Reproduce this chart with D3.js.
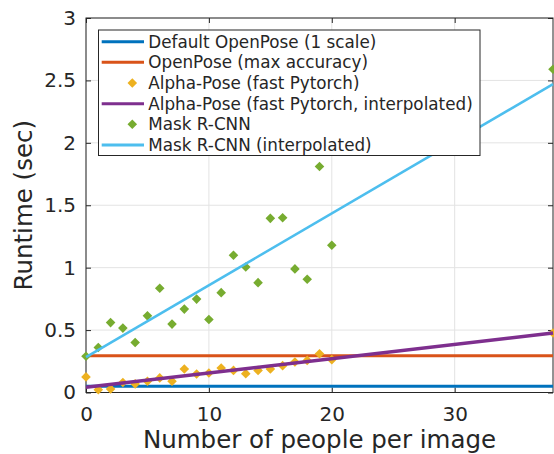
<!DOCTYPE html>
<html>
<head>
<meta charset="utf-8">
<script src="https://cdn.jsdelivr.net/npm/d3@7"></script>
<style>
html,body{margin:0;padding:0;background:#fff;}
svg{display:block;font-family:"DejaVu Sans",sans-serif;}
</style>
</head>
<body>
<svg id="chart" width="554" height="454"></svg>
<script>
// ---- data ----
const maskX = [0,1,2,3,4,5,6,7,8,9,10,11,12,13,14,15,16,17,18,19,20,38];
const maskY = [0.29,0.36,0.56,0.516,0.40,0.614,0.835,0.548,0.668,0.748,0.585,0.80,1.10,1.005,0.88,1.395,1.40,0.99,0.907,1.81,1.18,2.59];
const alphaX = [0,1,2,3,4,5,6,7,8,9,10,11,12,13,14,15,16,17,18,19,20,38];
const alphaY = [0.125,0.023,0.029,0.08,0.069,0.09,0.117,0.09,0.188,0.148,0.156,0.196,0.177,0.151,0.177,0.188,0.215,0.244,0.257,0.31,0.263,0.476];
const defaultOpenPoseX = [0,38];
const defaultOpenPoseY = [0.05,0.05];
const maxOpenPoseX = [0,38];
const maxOpenPoseY = [0.295,0.295];
const alphaInterpX = [0,38];
const alphaInterpY = [0.042,0.476];
const maskInterpX = [0,38];
const maskInterpY = [0.284,2.47];
const xTicks = [0,10,20,30];
const yTicks = [0,0.5,1,1.5,2,2.5,3];
const yTickLabels = ["0","0.5","1","1.5","2","2.5","3"];
const legendLabels = ["Default OpenPose (1 scale)","OpenPose (max accuracy)","Alpha-Pose (fast Pytorch)","Alpha-Pose (fast Pytorch, interpolated)","Mask R-CNN","Mask R-CNN (interpolated)"];
const xLabel = "Number of people per image";
const yLabel = "Runtime (sec)";

// ---- styles ----
const C = {blue:"#0072BD", red:"#D95319", yellow:"#EDB120", purple:"#7E2F8E", green:"#77AC30", cyan:"#4DBEEE"};
const axisColor = "#262626";

const svg = d3.select("#chart");
const L = 86, R = 553, T = 18, B = 392.5;
const x = d3.scaleLinear().domain([0,38]).range([L,R]);
const y = d3.scaleLinear().domain([0,3]).range([B,T]);

// grid
const grid = svg.append("g");
grid.selectAll(".gx").data(xTicks).enter().append("line")
  .attr("x1",d=>x(d)).attr("x2",d=>x(d)).attr("y1",T).attr("y2",B)
  .attr("stroke","#e3e3e3").attr("stroke-width",1);
grid.selectAll(".gy").data(yTicks).enter().append("line")
  .attr("x1",L).attr("x2",R).attr("y1",d=>y(d)).attr("y2",d=>y(d))
  .attr("stroke","#e3e3e3").attr("stroke-width",1);

// axes (ticks inward)
const fmtY = (d)=>yTickLabels[yTicks.indexOf(d)];
const axB = svg.append("g").attr("transform",`translate(0,${B})`)
  .call(d3.axisBottom(x).tickValues(xTicks).tickSizeInner(-5).tickSizeOuter(0).tickPadding(14));
const axL = svg.append("g").attr("transform",`translate(${L},0)`)
  .call(d3.axisLeft(y).tickValues(yTicks).tickFormat(fmtY).tickSizeInner(-5).tickSizeOuter(0).tickPadding(10));
const axT = svg.append("g").attr("transform",`translate(0,${T})`)
  .call(d3.axisTop(x).tickValues(xTicks).tickFormat("").tickSizeInner(-5).tickSizeOuter(0));
const axR = svg.append("g").attr("transform",`translate(${R},0)`)
  .call(d3.axisRight(y).tickValues(yTicks).tickFormat("").tickSizeInner(-5).tickSizeOuter(0));
[axB,axL,axT,axR].forEach(a=>{
  a.select(".domain").remove();
  a.selectAll("line").attr("stroke",axisColor);
  a.selectAll("text").attr("fill",axisColor).style("font-size","20px").style("font-family","DejaVu Sans");
});
svg.append("rect").attr("x",L).attr("y",T).attr("width",R-L).attr("height",B-T)
  .attr("fill","none").attr("stroke",axisColor).attr("stroke-width",1);

// lines
const line = d3.line().x(d=>x(d[0])).y(d=>y(d[1]));
function drawLine(xs,ys,color,w){
  svg.append("path").datum(xs.map((v,i)=>[v,ys[i]]))
    .attr("d",line).attr("fill","none").attr("stroke",color).attr("stroke-width",w);
}
const diamond = d3.symbol().type(d3.symbolSquare).size(46);
function drawPoints(xs,ys,color){
  svg.append("g").selectAll("path").data(xs.map((v,i)=>[v,ys[i]])).enter().append("path")
    .attr("d",diamond).attr("transform",d=>`translate(${x(d[0])},${y(d[1])}) rotate(45)`)
    .attr("fill",color);
}
drawLine(defaultOpenPoseX,defaultOpenPoseY,C.blue,3);
drawLine(maxOpenPoseX,maxOpenPoseY,C.red,3);
drawPoints(alphaX,alphaY,C.yellow);
drawLine(alphaInterpX,alphaInterpY,C.purple,3.5);
drawPoints(maskX,maskY,C.green);
drawLine(maskInterpX,maskInterpY,C.cyan,2.5);

// axis labels
svg.append("text").attr("x",(L+R)/2).attr("y",448).attr("text-anchor","middle")
  .attr("fill",axisColor).style("font-size","24.5px").text(xLabel);
svg.append("text").attr("transform",`translate(32,${(T+B)/2}) rotate(-90)`).attr("text-anchor","middle")
  .attr("fill",axisColor).style("font-size","24.5px").text(yLabel);

// legend
const lg = svg.append("g");
lg.append("rect").attr("x",98.5).attr("y",30).attr("width",381.5).attr("height",125.5)
  .attr("fill","#fff").attr("stroke",axisColor).attr("stroke-width",1);
const types = [["line",C.blue],["line",C.red],["pt",C.yellow],["line",C.purple],["pt",C.green],["line",C.cyan]];
legendLabels.forEach((lab,i)=>{
  const cy = 41.7 + i*20.65;
  const [t,col] = types[i];
  if(t==="line"){
    lg.append("line").attr("x1",101.7).attr("x2",144).attr("y1",cy).attr("y2",cy)
      .attr("stroke",col).attr("stroke-width",3);
  } else {
    lg.append("path").attr("d",diamond).attr("transform",`translate(132.3,${cy}) rotate(45)`).attr("fill",col);
  }
  lg.append("text").attr("x",148.3).attr("y",cy+6).attr("fill",axisColor)
    .style("font-size","16.8px").text(lab);
});
</script>
</body>
</html>
